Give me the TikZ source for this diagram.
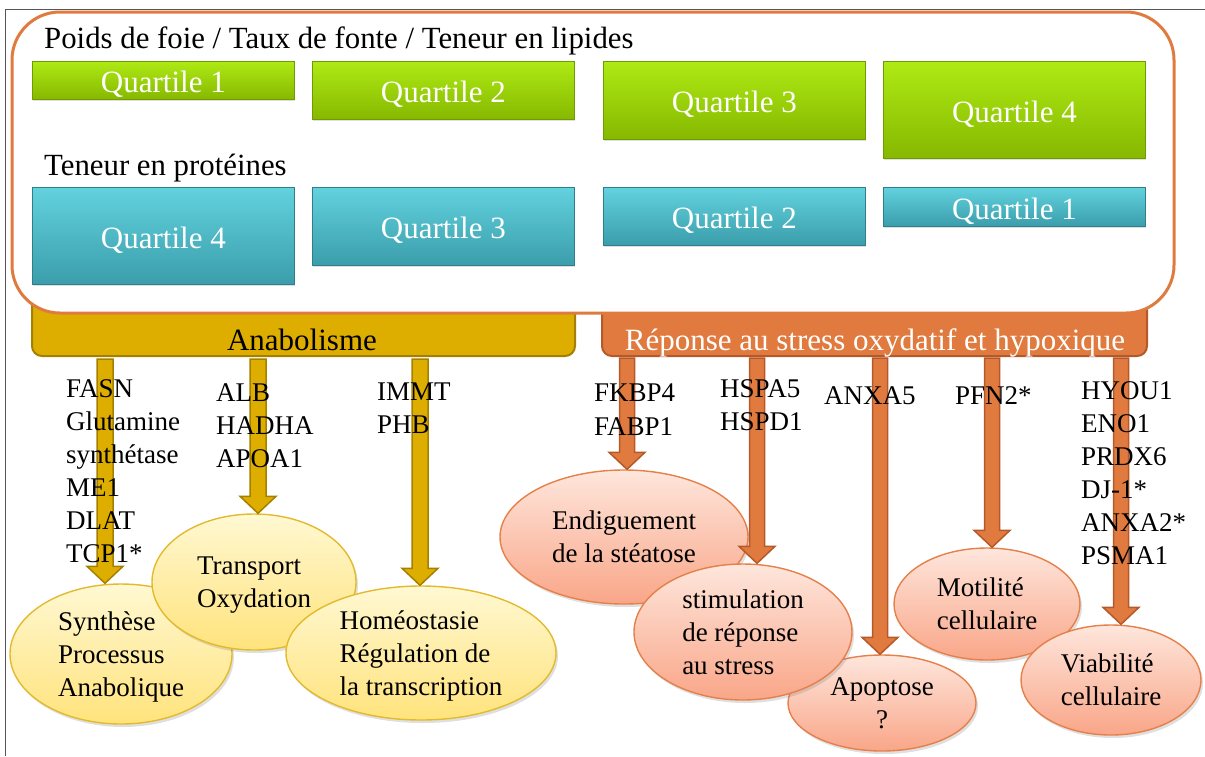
\documentclass[tikz,border=0pt]{standalone}
\usepackage{fontspec}
\setmainfont{Liberation Serif}
\usetikzlibrary{shapes.geometric,shadows,calc}

\definecolor{frameor}{HTML}{E07B3F}
\definecolor{goldf}{HTML}{DDAD00}
\definecolor{goldd}{HTML}{A58000}
\definecolor{oranf}{HTML}{E07A3E}
\definecolor{orand}{HTML}{B5592B}
\definecolor{gtop}{HTML}{AEEA14}
\definecolor{gbot}{HTML}{86B800}
\definecolor{gedge}{HTML}{6F9A00}
\definecolor{btop}{HTML}{62D2DE}
\definecolor{bbot}{HTML}{3B9DAB}
\definecolor{bedge}{HTML}{2F7F8B}
\definecolor{ytop}{HTML}{FFF8D2}
\definecolor{ybot}{HTML}{FFE37C}
\definecolor{yedge}{HTML}{E3BA2E}
\definecolor{otop}{HTML}{FEE6DC}
\definecolor{obot}{HTML}{F9A688}
\definecolor{oedge}{HTML}{E5804A}
\definecolor{framegray}{HTML}{555555}

\tikzset{
 qbox/.style={rectangle, inner sep=0pt, anchor=north west, text=white, font=\fontsize{31}{36}\selectfont, text height=25pt, text depth=0pt, line width=0.8pt, drop shadow={shadow xshift=1pt, shadow yshift=-2pt, opacity=0.25}},
 qgreen/.style={qbox, top color=gtop, bottom color=gbot, draw=gedge},
 qblue/.style={qbox, top color=btop, bottom color=bbot, draw=bedge},
 ell/.style={ellipse, inner sep=0pt, line width=1.4pt, font=\fontsize{27}{33}\selectfont, align=left, text depth=0pt, drop shadow={shadow xshift=2pt, shadow yshift=-3pt, opacity=0.25}},
 yell/.style={ell, top color=ytop, bottom color=ybot, draw=yedge},
 oell/.style={ell, top color=otop, bottom color=obot, draw=oedge},
 genes/.style={inner sep=0pt, anchor=north west, align=left, font=\fontsize{27}{33}\selectfont},
 genesb/.style={inner sep=0pt, anchor=north west, align=left, font=\fontsize{27}{34}\selectfont},
 titletext/.style={inner sep=0pt, anchor=base west, font=\fontsize{30.8}{36}\selectfont},
 barlabel/.style={inner sep=0pt, anchor=base, font=\fontsize{31}{36}\selectfont},
 barbox/.style={rectangle, inner sep=0pt, rounded corners=10pt, line width=2pt},
 goldarrow/.style={fill=goldf, draw=goldd, line width=1.5pt},
 oranarrow/.style={fill=oranf, draw=orand, line width=1.5pt},
}

\newcommand\blockarrow[4]{%
 \path[#1] let \p1=#2, \p2=#3 in
  (\x1-#4,\y1) -- (\x1+#4,\y1) -- (\x1+#4,\y2+17pt) -- (\x1+18pt,\y2+17pt)
  -- (\x1,\y2) -- (\x1-18pt,\y2+17pt) -- (\x1-#4,\y2+17pt) -- cycle;}

\begin{document}
\begin{tikzpicture}[x=1pt,y=-1pt]
\useasboundingbox (0,0) rectangle (1205,756);
\draw[framegray, line width=1pt] (5,756) -- (5,9) -- (1205,9);

% bars
\node[barbox, draw=goldd, fill=goldf, minimum width=543pt, minimum height=70pt] (anab) at (303.5,321) {};
\node[barbox, draw=orand, fill=oranf, minimum width=545pt, minimum height=70pt] (rep) at (874.5,321) {};

% panel
\node[draw=frameor, line width=3pt, fill=white, rounded corners=48pt, minimum width=1162pt, minimum height=301pt, inner sep=0pt] (panel) at (593,162.5) {};

\node[titletext] (t1) at (44,48) {Poids de foie / Taux de fonte / Teneur en lipides};
\node[titletext] (t2) at (44,175) {Teneur en protéines};

\node[qgreen, minimum width=262pt, minimum height=38pt] (gq1) at (32,61) {Quartile 1};
\node[qgreen, minimum width=262pt, minimum height=58pt] (gq2) at (312,61) {Quartile 2};
\node[qgreen, minimum width=262pt, minimum height=78pt] (gq3) at (603,61) {Quartile 3};
\node[qgreen, minimum width=262pt, minimum height=97pt] (gq4) at (883,61) {Quartile 4};

\node[qblue, minimum width=262pt, minimum height=97pt] (bq4) at (32,187) {Quartile 4};
\node[qblue, minimum width=262pt, minimum height=78pt] (bq3) at (312,187) {Quartile 3};
\node[qblue, minimum width=262pt, minimum height=58pt] (bq2) at (603,187) {Quartile 2};
\node[qblue, minimum width=262pt, minimum height=39pt] (bq1) at (883,187) {Quartile 1};

\node[barlabel] (anabT) at (302,350) {Anabolisme};
\node[barlabel, text=white] (repT) at (875,350) {Réponse au stress oxydatif et hypoxique};

% ellipses
\node[yell, minimum width=222pt, minimum height=140pt] (synth) at (121,654) {Synthèse\\Processus\\Anabolique};
\node[yell, minimum width=204pt, minimum height=136pt] (transp) at (254,582) {Transport\\Oxydation};
\node[yell, minimum width=270pt, minimum height=134pt] (homeo) at (421,653) {Homéostasie\\Régulation de\\la transcription};

\node[oell, minimum width=248pt, minimum height=134pt] (endig) at (624,537) {Endiguement\\de la stéatose};
\node[oell, minimum width=188pt, minimum height=96pt, align=center] (apop) at (882,703) {Apoptose\\?};
\node[oell, minimum width=218pt, minimum height=136pt] (stim) at (743,632) {stimulation\\de réponse\\au stress};
\node[oell, minimum width=186pt, minimum height=112pt] (motil) at (987,604) {Motilité\\cellulaire};
\node[oell, minimum width=180pt, minimum height=110pt] (viab) at (1111,680) {Viabilité\\cellulaire};

% arrows
\coordinate (ga1) at (105,359);
\coordinate (ga2) at (258,359);
\coordinate (ga3) at (420,359);
\coordinate (oa1) at (627,358);
\coordinate (oa2) at (757,358);
\coordinate (oa3) at (880,358);
\coordinate (oa4) at (992,358);
\coordinate (oa5) at (1121,358);

\blockarrow{goldarrow}{(ga1)}{(ga1 |- synth.north)}{8pt}
\blockarrow{goldarrow}{(ga2)}{(ga2 |- transp.north)}{8pt}
\blockarrow{goldarrow}{(ga3)}{(ga3 |- homeo.north)}{8pt}
\blockarrow{oranarrow}{(oa1)}{(oa1 |- endig.north)}{7.5pt}
\blockarrow{oranarrow}{(oa2)}{(oa2 |- stim.north)}{7.5pt}
\blockarrow{oranarrow}{(oa3)}{(oa3 |- apop.north)}{7.5pt}
\blockarrow{oranarrow}{(oa4)}{(oa4 |- motil.north)}{7.5pt}
\blockarrow{oranarrow}{(oa5)}{(oa5 |- viab.north)}{7.5pt}

% gene lists
\node[genes] (g1) at (66,379) {FASN\\Glutamine\\synthétase\\ME1\\DLAT\\TCP1*};
\node[genes] (g2) at (216,383) {ALB\\HADHA\\APOA1};
\node[genes] (g3) at (377,383) {IMMT\\PHB};
\node[genesb] (g4) at (594,384) {FKBP4\\FABP1};
\node[genes] (g5) at (720,379) {HSPA5\\HSPD1};
\node[genes] (g6) at (824,386) {ANXA5};
\node[genes] (g7) at (955,386) {PFN2*};
\node[genes] (g8) at (1081,381) {HYOU1\\ENO1\\PRDX6\\DJ-1*\\ANXA2*\\PSMA1};
\end{tikzpicture}
\end{document}
